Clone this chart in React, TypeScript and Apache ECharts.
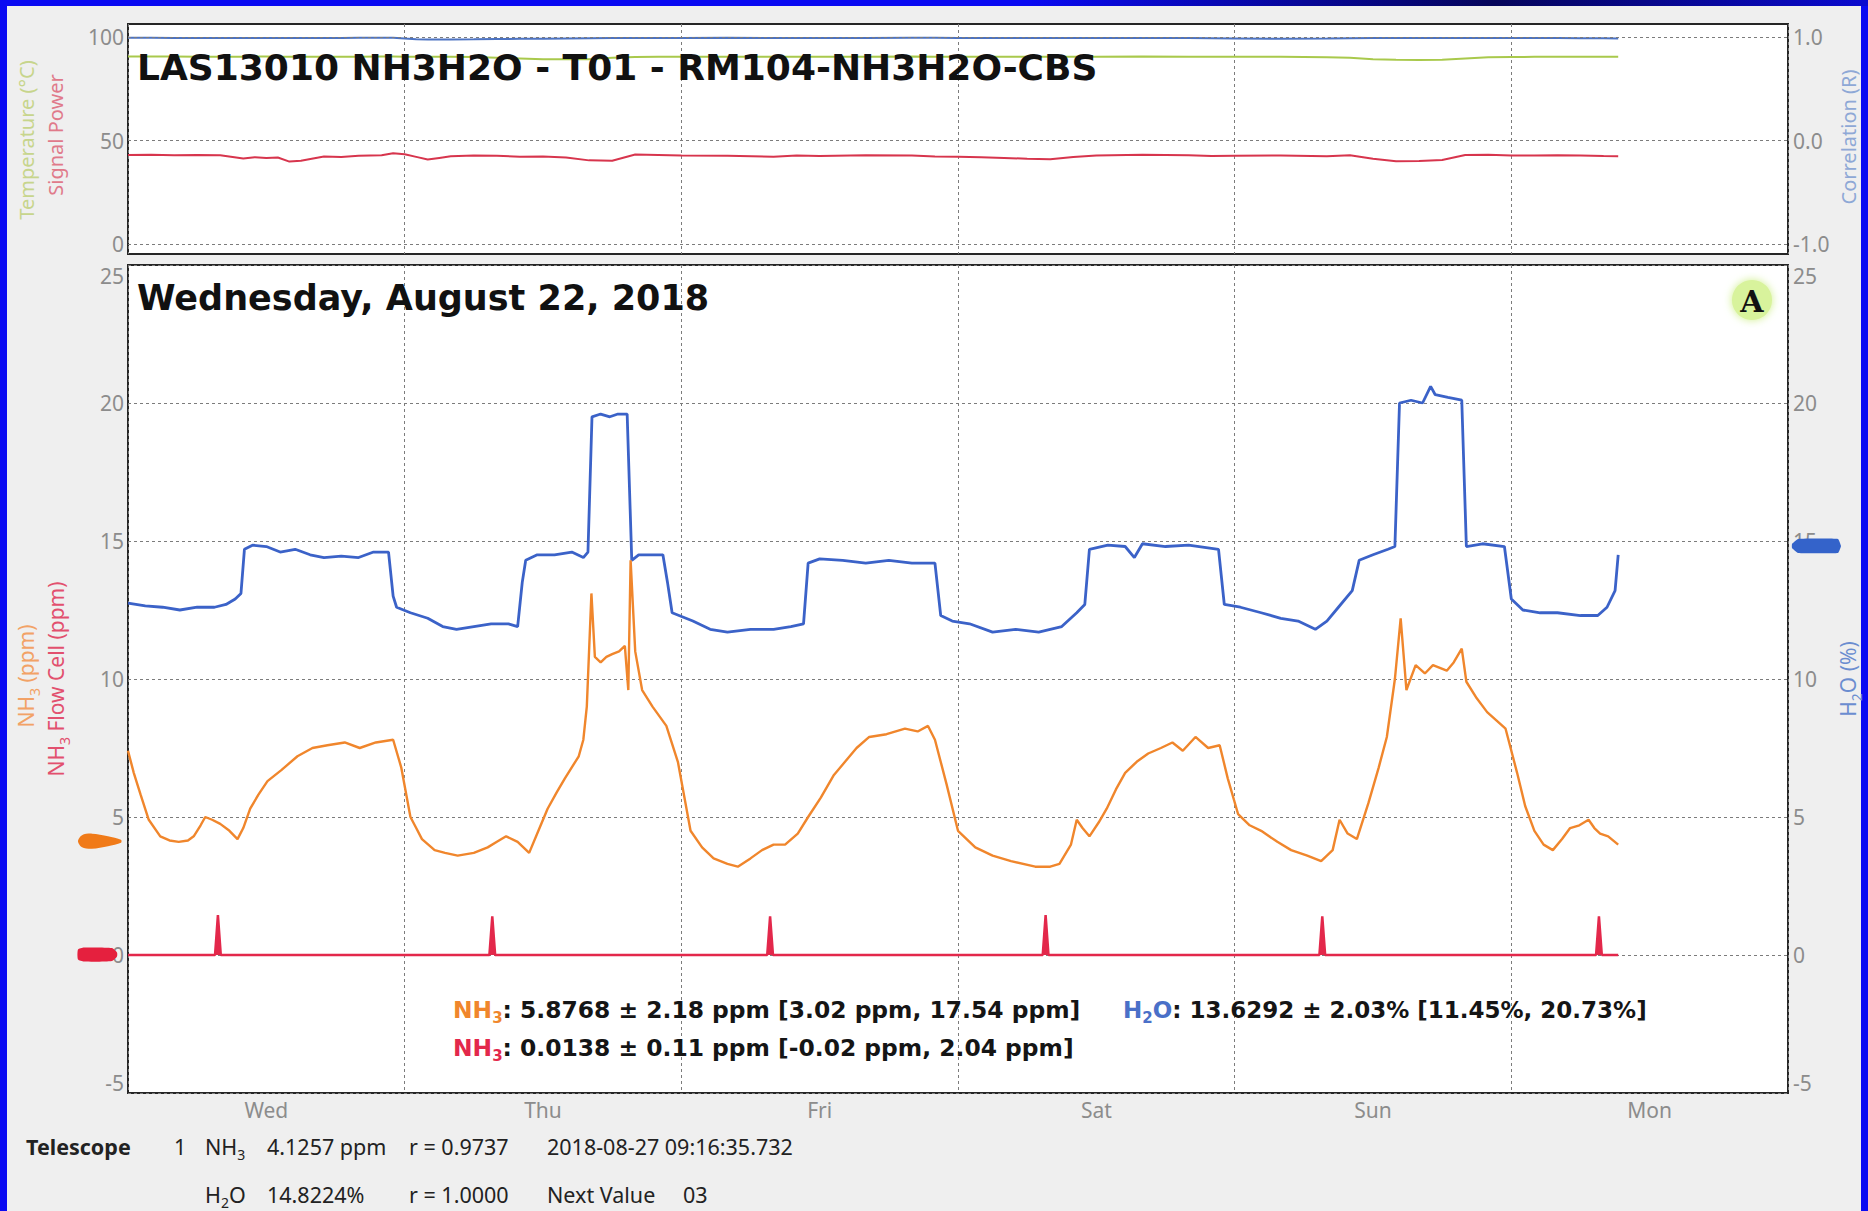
import React, { useEffect, useRef } from "react";
import * as echarts from "echarts";

// ---------- data ----------
const DAY_LABELS = ["Wed", "Thu", "Fri", "Sat", "Sun", "Mon"];
const X_MAX_HOURS = 144; // Wed 00:00 .. Tue 00:00 (hours since 2018-08-22 00:00)

const TOP_LEFT_TICKS = [0, 50, 100];
const TOP_RIGHT_TICKS = [-1, 0, 1];

// top panel (hours since Wed 00:00)
const topHours = [0, 2, 4, 6, 8, 10, 11, 12, 13, 14, 15, 17, 18.5, 20, 22, 23, 24, 25, 26, 27, 28, 30, 32, 34, 36, 38, 40, 42, 44, 46, 48, 52, 56, 58, 60, 64, 68, 70, 72, 74, 76, 78, 80, 82, 84, 88, 92, 94, 96, 100, 104, 106, 108, 110, 112, 114, 116, 118, 120, 122, 124, 126, 128, 129.27];
const signalPower = [43.0, 43.1, 42.9, 43.0, 42.9, 41.3, 41.9, 41.6, 41.8, 39.8, 40.2, 42.3, 42.0, 42.6, 42.9, 43.8, 43.4, 42.1, 40.8, 41.6, 42.4, 42.7, 42.6, 42.2, 42.3, 41.8, 40.4, 40.2, 43.2, 43.0, 42.8, 42.6, 42.2, 42.7, 42.5, 42.9, 42.7, 42.3, 42.1, 41.9, 41.6, 41.2, 40.9, 42.0, 42.8, 43.1, 42.9, 42.5, 42.6, 42.8, 42.4, 42.9, 41.2, 40.0, 40.1, 40.6, 43.0, 43.1, 42.8, 42.7, 42.9, 42.8, 42.5, 42.4];
const temperature = [90.6, 90.6, 90.6, 90.5, 90.5, 90.5, 90.6, 90.6, 90.5, 90.5, 90.5, 90.4, 90.5, 90.5, 90.6, 90.6, 90.5, 90.4, 90.4, 90.4, 90.4, 90.3, 90.0, 89.6, 89.2, 89.2, 89.3, 90.0, 90.3, 90.4, 90.4, 90.5, 90.5, 90.4, 90.4, 90.5, 90.6, 90.5, 90.5, 90.5, 90.5, 90.4, 90.4, 90.5, 90.5, 90.6, 90.5, 90.5, 90.4, 90.4, 90.2, 90.0, 89.3, 89.0, 88.9, 89.0, 89.6, 90.2, 90.3, 90.4, 90.4, 90.4, 90.4, 90.4];
const correlation = [0.992, 0.992, 0.991, 0.991, 0.99, 0.99, 0.991, 0.991, 0.99, 0.99, 0.99, 0.991, 0.991, 0.992, 0.992, 0.992, 0.985, 0.979, 0.976, 0.975, 0.977, 0.978, 0.98, 0.982, 0.984, 0.986, 0.988, 0.99, 0.991, 0.991, 0.991, 0.992, 0.991, 0.991, 0.99, 0.991, 0.992, 0.992, 0.991, 0.991, 0.99, 0.99, 0.99, 0.991, 0.991, 0.991, 0.99, 0.988, 0.986, 0.983, 0.985, 0.989, 0.99, 0.991, 0.99, 0.99, 0.991, 0.991, 0.99, 0.99, 0.99, 0.988, 0.987, 0.986];

// main panel
const h2oHours = [0, 1.5, 3, 4.5, 6, 7.5, 8.5, 9.3, 9.8, 10.1, 10.8, 12, 13.2, 14.5, 15.8, 17, 18.5, 20, 21.3, 22.6, 23.0, 23.3, 24.5, 26, 27.3, 28.5, 30, 31.5, 33, 33.8, 34.2, 34.5, 35.5, 37, 38.5, 39.5, 39.9, 40.25, 41.0, 41.8, 42.5, 43.3, 43.7, 44.3, 46.4, 46.8, 47.2, 47.8, 49, 50.5, 52, 54, 56, 57.5, 58.6, 59.0, 60, 62, 64, 66, 68, 70.0, 70.5, 71.5, 73, 75, 77, 79, 81, 82.3, 83.0, 83.4, 85, 86.5, 87.3, 88, 90, 92, 94.6, 95.1, 96.5, 98.3, 100, 101.5, 103, 104, 105, 106.2, 106.8, 108, 109.3, 109.9, 110.3, 111.3, 112.3, 113.0, 113.4, 114.5, 115.7, 116.1, 117.5, 119.4, 120.0, 121.0, 122.5, 124, 126, 127.5, 128.3, 129.0, 129.27];
const h2oValues = [12.75, 12.65, 12.6, 12.5, 12.6, 12.6, 12.7, 12.9, 13.1, 14.7, 14.85, 14.8, 14.6, 14.7, 14.5, 14.4, 14.45, 14.4, 14.6, 14.6, 13.0, 12.6, 12.4, 12.2, 11.9, 11.8, 11.9, 12.0, 12.0, 11.9, 13.5, 14.3, 14.5, 14.5, 14.6, 14.4, 14.6, 19.5, 19.6, 19.5, 19.6, 19.6, 14.3, 14.5, 14.5, 13.5, 12.4, 12.3, 12.1, 11.8, 11.7, 11.8, 11.8, 11.9, 12.0, 14.2, 14.35, 14.3, 14.2, 14.3, 14.2, 14.2, 12.3, 12.1, 12.0, 11.7, 11.8, 11.7, 11.9, 12.4, 12.7, 14.7, 14.85, 14.8, 14.4, 14.9, 14.8, 14.85, 14.7, 12.7, 12.6, 12.4, 12.2, 12.1, 11.8, 12.1, 12.6, 13.2, 14.3, 14.5, 14.7, 14.8, 20.0, 20.1, 20.0, 20.6, 20.3, 20.2, 20.1, 14.8, 14.9, 14.8, 12.9, 12.5, 12.4, 12.4, 12.3, 12.3, 12.6, 13.2, 14.5];

const nh3Hours = [0, 0.5, 1.1, 1.8, 2.8, 3.6, 4.4, 5.2, 5.7, 6.3, 6.7, 7.3, 8.0, 8.8, 9.5, 10.0, 10.6, 11.3, 12.1, 13.3, 14.7, 16, 17.3, 18.8, 20.1, 21.5, 23.0, 23.7, 24.5, 25.0, 25.5, 26.6, 27.5, 28.6, 30, 31.2, 32.0, 32.8, 33.8, 34.8, 35.6, 36.4, 37.2, 37.9, 39.1, 39.5, 39.8, 40.2, 40.5, 41.0, 41.5, 42.0, 42.6, 43.1, 43.4, 43.6, 44.0, 44.6, 45.5, 46.7, 47.7, 48.8, 49.8, 50.8, 52.0, 52.9, 54.0, 55.0, 56, 57.0, 58.1, 59.0, 60.1, 61.2, 62.2, 63.2, 64.3, 65.8, 67.4, 68.5, 69.4, 70.0, 71.0, 72.0, 73.5, 75, 76.6, 78.7, 80.0, 80.8, 81.8, 82.3, 82.8, 83.4, 84.2, 84.9, 85.7, 86.5, 87.5, 88.5, 89.6, 90.6, 91.5, 92.6, 93.7, 94.7, 95.4, 96.3, 97.3, 98.3, 99.7, 100.9, 102.3, 103.5, 104.5, 105.1, 105.8, 106.6, 107.6, 108.5, 109.2, 109.9, 110.4, 110.9, 111.7, 112.5, 113.2, 113.8, 114.4, 115.0, 115.7, 116.1, 117.0, 117.9, 118.7, 119.5, 120.5, 121.2, 122.0, 122.8, 123.6, 124.4, 125.1, 125.9, 126.7, 127.2, 127.7, 128.4, 129.27];
const nh3Values = [7.4, 6.6, 5.8, 4.9, 4.3, 4.15, 4.1, 4.15, 4.3, 4.7, 5.0, 4.9, 4.75, 4.5, 4.2, 4.6, 5.3, 5.8, 6.3, 6.7, 7.2, 7.5, 7.6, 7.7, 7.5, 7.7, 7.8, 6.8, 5.0, 4.6, 4.2, 3.8, 3.7, 3.6, 3.7, 3.9, 4.1, 4.3, 4.1, 3.7, 4.5, 5.3, 5.9, 6.4, 7.2, 7.8, 9.0, 13.1, 10.8, 10.6, 10.8, 10.9, 11.0, 11.2, 9.6, 14.3, 11.0, 9.6, 9.0, 8.3, 7.0, 4.5, 3.9, 3.5, 3.3, 3.2, 3.5, 3.8, 4.0, 4.0, 4.4, 5.0, 5.7, 6.5, 7.0, 7.5, 7.9, 8.0, 8.2, 8.1, 8.3, 7.8, 6.2, 4.5, 3.9, 3.6, 3.4, 3.2, 3.2, 3.3, 4.0, 4.9, 4.6, 4.3, 4.8, 5.3, 6.0, 6.6, 7.0, 7.3, 7.5, 7.7, 7.4, 7.9, 7.5, 7.6, 6.4, 5.1, 4.7, 4.5, 4.1, 3.8, 3.6, 3.4, 3.8, 4.9, 4.4, 4.2, 5.5, 6.8, 7.9, 10.0, 12.2, 9.6, 10.5, 10.2, 10.5, 10.4, 10.3, 10.6, 11.1, 9.9, 9.3, 8.8, 8.5, 8.2, 6.6, 5.4, 4.5, 4.0, 3.8, 4.2, 4.6, 4.7, 4.9, 4.6, 4.4, 4.3, 4.0];

const flowHours = [0, 7.55, 7.8, 8.05, 31.35, 31.6, 31.85, 55.45, 55.7, 55.95, 79.35, 79.6, 79.85, 103.35, 103.6, 103.85, 127.35, 127.6, 127.85, 129.27];
const flowValues = [0, 0, 1.45, 0, 0, 1.4, 0, 0, 1.4, 0, 0, 1.45, 0, 0, 1.4, 0, 0, 1.4, 0, 0];

const CURRENT_NH3 = 4.1257;
const CURRENT_FLOW = 0.0138;
const CURRENT_H2O = 14.8224;

// ---------- styling ----------
const SANS = '"Noto Sans", "Open Sans", sans-serif';
const DEJAVU = '"DejaVu Sans", sans-serif';
const PLOT_LEFT = 128;
const PLOT_WIDTH = 1660;
const TOP_Y = 24;
const TOP_H = 230;
const MAIN_Y = 265;
const MAIN_H = 828;

const C_ORANGE = "#f0862c";
const C_BLUE = "#3b62c8";
const C_RED = "#e3284b";
const C_T_GREEN = "#a9c94c";
const C_T_BLUE = "#4d73c2";
const C_T_RED = "#d7354d";
const TICK_COLOR = "#8c8c8c";

const zip = (xs: number[], ys: number[]) => xs.map((x, i) => [x, ys[i]]);

const dashed = { show: true, lineStyle: { color: "#7c7c7c", type: [3, 3] as any, width: 1 } };
const hidden = { show: false };

function tickLabel(extra: any = {}) {
  return { color: TICK_COLOR, fontSize: 21, fontFamily: SANS, ...extra };
}

function buildOption(): any {
  return {
    animation: false,
    backgroundColor: "#efefef",
    grid: [
      { left: PLOT_LEFT, top: TOP_Y, width: PLOT_WIDTH, height: TOP_H, show: true, backgroundColor: "#ffffff", borderColor: "#262626", borderWidth: 2 },
      { left: PLOT_LEFT, top: MAIN_Y, width: PLOT_WIDTH, height: MAIN_H, show: true, backgroundColor: "#ffffff", borderColor: "#262626", borderWidth: 2 },
    ],
    xAxis: [
      { gridIndex: 0, type: "value", position: "bottom", min: 0, max: X_MAX_HOURS, interval: 24, splitLine: dashed, axisLine: hidden, axisTick: hidden, axisLabel: hidden },
      { gridIndex: 1, type: "value", position: "top", min: 0, max: X_MAX_HOURS, interval: 24, splitLine: dashed, axisLine: hidden, axisTick: hidden, axisLabel: hidden },
      {
        gridIndex: 1, type: "value", position: "bottom", min: 0, max: X_MAX_HOURS, interval: 12, splitLine: hidden, axisLine: hidden, axisTick: hidden,
        axisLabel: tickLabel({ margin: 6, formatter: (v: number) => (v % 24 === 12 ? DAY_LABELS[(v - 12) / 24] || "" : "") }),
      },
    ],
    yAxis: [
      { gridIndex: 0, type: "value", min: -4.83, max: 106.28, splitLine: hidden, axisLine: hidden, axisTick: hidden, axisLabel: tickLabel({ margin: 4, customValues: TOP_LEFT_TICKS }) },
      { gridIndex: 0, type: "value", position: "right", min: -1.0966, max: 1.1256, splitLine: hidden, axisLine: hidden, axisTick: hidden, axisLabel: tickLabel({ margin: 5, customValues: TOP_RIGHT_TICKS, formatter: (v: number) => v.toFixed(1) }) },
      { gridIndex: 1, type: "value", min: -5, max: 25, interval: 5, splitLine: dashed, axisLine: hidden, axisTick: hidden, axisLabel: tickLabel({ margin: 4, verticalAlignMaxLabel: "top", verticalAlignMinLabel: "bottom" }) },
      { gridIndex: 1, type: "value", position: "right", min: -5, max: 25, interval: 5, splitLine: hidden, axisLine: hidden, axisTick: hidden, axisLabel: tickLabel({ margin: 5, verticalAlignMaxLabel: "top", verticalAlignMinLabel: "bottom" }) },
    ],
    series: [
      {
        name: "Signal Power", type: "line", xAxisIndex: 0, yAxisIndex: 0, data: zip(topHours, signalPower), showSymbol: false, lineStyle: { color: C_T_RED, width: 2 }, itemStyle: { color: C_T_RED },
        markLine: { silent: true, symbol: "none", label: { show: false }, lineStyle: { color: "#7c7c7c", type: [3, 3], width: 1 }, data: TOP_LEFT_TICKS.map((v) => ({ yAxis: v })) },
      },
      { name: "Temperature", type: "line", xAxisIndex: 0, yAxisIndex: 0, data: zip(topHours, temperature), showSymbol: false, lineStyle: { color: C_T_GREEN, width: 2 }, itemStyle: { color: C_T_GREEN } },
      { name: "Correlation", type: "line", xAxisIndex: 0, yAxisIndex: 1, data: zip(topHours, correlation), showSymbol: false, lineStyle: { color: C_T_BLUE, width: 2 }, itemStyle: { color: C_T_BLUE } },
      { name: "H2O", type: "line", xAxisIndex: 1, yAxisIndex: 3, data: zip(h2oHours, h2oValues), showSymbol: false, lineStyle: { color: C_BLUE, width: 2.8 }, itemStyle: { color: C_BLUE } },
      { name: "NH3", type: "line", xAxisIndex: 1, yAxisIndex: 2, data: zip(nh3Hours, nh3Values), showSymbol: false, lineStyle: { color: C_ORANGE, width: 2.4 }, itemStyle: { color: C_ORANGE } },
      { name: "NH3 Flow Cell", type: "line", xAxisIndex: 1, yAxisIndex: 2, data: zip(flowHours, flowValues), showSymbol: false, lineStyle: { color: C_RED, width: 2.5 }, itemStyle: { color: C_RED }, areaStyle: { color: C_RED, opacity: 1 } },
    ],
  };
}

function txt(x: number, y: number, text: string, font: string, fill: string, extra: any = {}) {
  return {
    type: "text", x, y, z: 100, silent: true,
    style: { text, font, fill, textAlign: "left", align: "left", textVerticalAlign: "middle", verticalAlign: "middle", ...extra },
  };
}

function richTxt(x: number, y: number, text: string, rich: any, rotation = 0, align = "left") {
  return {
    type: "text", x, y, z: 100, silent: true, rotation,
    style: { text, rich, textAlign: align, align, textVerticalAlign: "middle", verticalAlign: "middle" },
  };
}

function tok(size: number, fill: string, weight = "normal", family = SANS, lh = 30) {
  return { fontSize: size, fill, fontWeight: weight, fontFamily: family, lineHeight: lh, verticalAlign: "middle" };
}
function sub(size: number, fill: string, weight = "normal", family = SANS) {
  return { fontSize: size, fill, fontWeight: weight, fontFamily: family, lineHeight: size, verticalAlign: "bottom" };
}

function buildGraphics(chart: any): any[] {
  const yN = chart.convertToPixel({ yAxisIndex: 2 }, CURRENT_NH3);
  const yF = chart.convertToPixel({ yAxisIndex: 2 }, CURRENT_FLOW);
  const yH = chart.convertToPixel({ yAxisIndex: 3 }, CURRENT_H2O);

  const statFont = 23.4;
  const statFont2 = 23;
  const infoFont = 21.5;
  const nameFont = 20;
  const g: any[] = [
    // blue frame
    { type: "rect", z: 90, silent: true, shape: { x: 0, y: 0, width: 7, height: 1211 }, style: { fill: "#0a0af2" } },
    { type: "rect", z: 90, silent: true, shape: { x: 1861, y: 0, width: 7, height: 1211 }, style: { fill: "#0a0af2" } },
    {
      type: "rect", z: 90, silent: true, shape: { x: 0, y: 0, width: 1868, height: 6 },
      style: { fill: new echarts.graphic.LinearGradient(0, 0, 1, 0, [{ offset: 0, color: "#0a0af2" }, { offset: 0.55, color: "#0a0af2" }, { offset: 0.8, color: "#05055a" }, { offset: 1, color: "#0a0ad0" }]) },
    },
    // titles
    txt(137, 67, "LAS13010 NH3H2O - T01 - RM104-NH3H2O-CBS", `bold 36px ${DEJAVU}`, "#111111"),
    txt(137, 298, "Wednesday, August 22, 2018", `bold 35px ${DEJAVU}`, "#111111"),
    // badge
    { type: "circle", z: 100, silent: true, shape: { cx: 1752, cy: 300, r: 20 }, style: { fill: "#d8f39c", shadowBlur: 8, shadowColor: "#cfef8a" } },
    { type: "text", z: 101, silent: true, x: 1752, y: 301, style: { text: "A", font: 'bold 30px "DejaVu Serif", serif', fill: "#111", textAlign: "center", align: "center", textVerticalAlign: "middle", verticalAlign: "middle" } },
    // rotated axis names
    richTxt(26, 140, "{a|Temperature (°C)}", { a: tok(nameFont, "#c7d58c") }, Math.PI / 2, "center"),
    richTxt(55, 135, "{a|Signal Power}", { a: tok(nameFont, "#e07a8a") }, Math.PI / 2, "center"),
    richTxt(1848, 137, "{a|Correlation (R)}", { a: tok(nameFont, "#8ea8d6") }, Math.PI / 2, "center"),
    richTxt(26, 676, "{a|NH}{s|3}{a| (ppm)}", { a: tok(nameFont + 1, "#f2a266"), s: sub(14, "#f2a266") }, Math.PI / 2, "center"),
    richTxt(56, 679, "{a|NH}{s|3}{a| Flow Cell (ppm)}", { a: tok(nameFont + 1, "#e2506e"), s: sub(14, "#e2506e") }, Math.PI / 2, "center"),
    richTxt(1848, 679, "{a|H}{s|2}{a|O (%)}", { a: tok(nameFont + 1, "#6b8dd0"), s: sub(14, "#6b8dd0") }, Math.PI / 2, "center"),
    // statistics
    richTxt(453, 1010, "{o|NH}{os|3}{k|: 5.8768 ± 2.18 ppm [3.02 ppm, 17.54 ppm]}", {
      o: tok(statFont, C_ORANGE, "bold", DEJAVU), os: sub(15, C_ORANGE, "bold", DEJAVU), k: tok(statFont, "#151515", "bold", DEJAVU),
    }),
    richTxt(1123, 1010, "{b|H}{bs|2}{b|O}{k|: 13.6292 ± 2.03% [11.45%, 20.73%]}", {
      b: tok(statFont2, "#4a70c8", "bold", DEJAVU), bs: sub(15, "#4a70c8", "bold", DEJAVU), k: tok(statFont2, "#151515", "bold", DEJAVU),
    }),
    richTxt(453, 1048, "{r|NH}{rs|3}{k|: 0.0138 ± 0.11 ppm [-0.02 ppm, 2.04 ppm]}", {
      r: tok(statFont, C_RED, "bold", DEJAVU), rs: sub(15, C_RED, "bold", DEJAVU), k: tok(statFont, "#151515", "bold", DEJAVU),
    }),
    // bottom info
    txt(26, 1146, "Telescope", `bold ${infoFont}px ${SANS}`, "#222"),
    txt(174, 1146, "1", `${infoFont}px ${SANS}`, "#222"),
    richTxt(205, 1146, "{a|NH}{s|3}", { a: tok(infoFont, "#222"), s: sub(14, "#222") }),
    txt(267, 1146, "4.1257 ppm", `${infoFont}px ${SANS}`, "#222"),
    txt(409, 1146, "r = 0.9737", `${infoFont}px ${SANS}`, "#222"),
    txt(547, 1146, "2018-08-27 09:16:35.732", `${infoFont}px ${SANS}`, "#222"),
    richTxt(205, 1194, "{a|H}{s|2}{a|O}", { a: tok(infoFont, "#222"), s: sub(14, "#222") }),
    txt(267, 1194, "14.8224%", `${infoFont}px ${SANS}`, "#222"),
    txt(409, 1194, "r = 1.0000", `${infoFont}px ${SANS}`, "#222"),
    txt(547, 1194, "Next Value", `${infoFont}px ${SANS}`, "#222"),
    txt(683, 1194, "03", `${infoFont}px ${SANS}`, "#222"),
    // current-value markers
    {
      type: "polygon", z: 95, silent: true,
      shape: { points: [[78, yN], [82, yN - 6], [92, yN - 7.5], [108, yN - 5], [121, yN - 1.5], [121, yN + 1.5], [108, yN + 5], [92, yN + 7.5], [82, yN + 6]], smooth: 0.3 },
      style: { fill: "#f07a18" },
    },
    {
      type: "polygon", z: 95, silent: true,
      shape: { points: [[78, yF - 5], [84, yF - 7], [112, yF - 6.5], [117, yF - 2], [117, yF + 2], [112, yF + 6.5], [84, yF + 7], [78, yF + 5]], smooth: 0.2 },
      style: { fill: "#e5203e" },
    },
    {
      type: "polygon", z: 95, silent: true,
      shape: { points: [[1792, yH - 2], [1798, yH - 7], [1838, yH - 7], [1841, yH], [1838, yH + 7], [1798, yH + 7], [1792, yH + 2]], smooth: 0.1 },
      style: { fill: "#3463ca" },
    },
  ];
  return g;
}

export default function App() {
  const ref = useRef<HTMLDivElement>(null);
  useEffect(() => {
    if (!ref.current) return;
    const chart = echarts.init(ref.current, null, { renderer: "svg" });
    chart.setOption(buildOption());
    chart.setOption({ graphic: buildGraphics(chart) });
    return () => chart.dispose();
  }, []);
  return <div ref={ref} style={{ position: "fixed", left: 0, top: 0, width: 1868, height: 1211 }} />;
}
